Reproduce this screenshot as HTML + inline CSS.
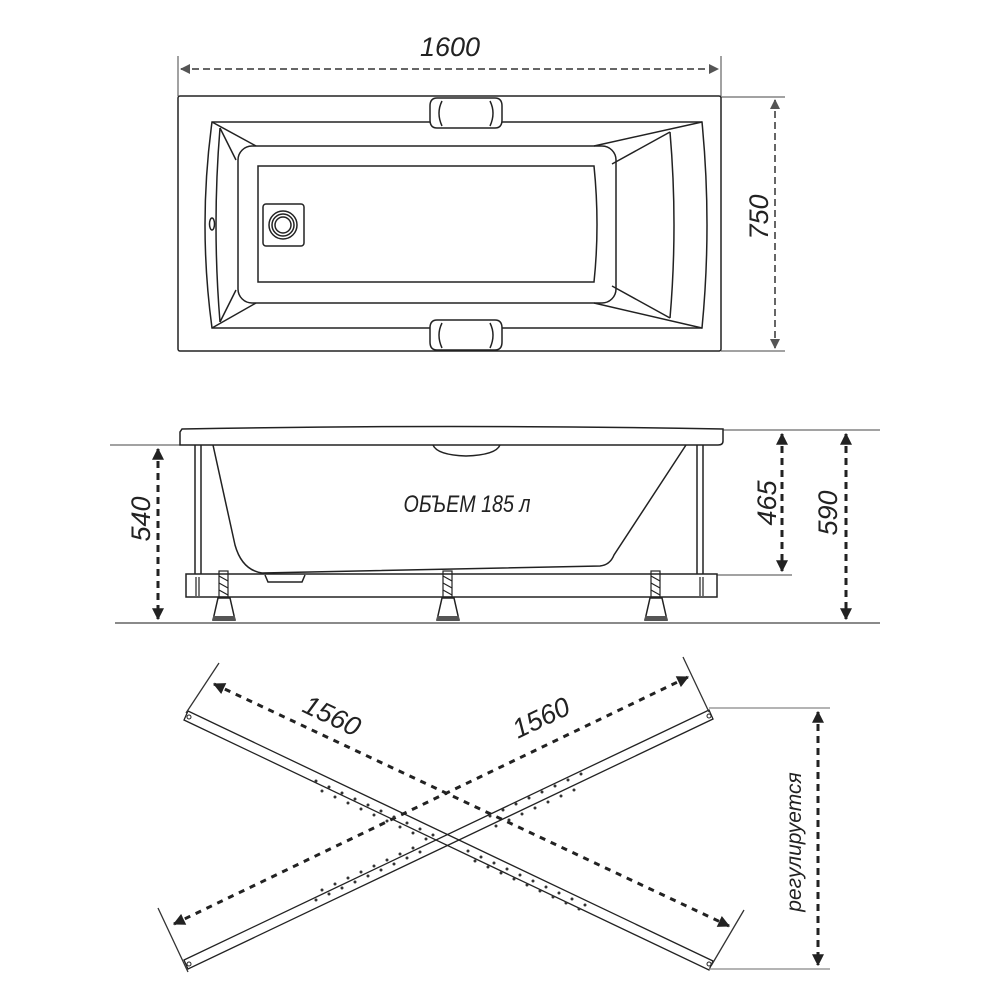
<!DOCTYPE html>
<html><head><meta charset="utf-8"><style>
html,body{margin:0;padding:0;background:#fff;width:1000px;height:1000px;overflow:hidden}
text{font-family:"Liberation Sans",sans-serif;font-style:italic;fill:#222}
</style></head><body>
<svg width="1000" height="1000" viewBox="0 0 1000 1000" xmlns="http://www.w3.org/2000/svg">
<defs>
<marker id="ah" viewBox="0 0 10 10" refX="9" refY="5" markerWidth="4" markerHeight="4" orient="auto-start-reverse" markerUnits="strokeWidth"><path d="M0,0 L10,5 L0,10 z" fill="#222"/></marker>
<marker id="ag" viewBox="0 0 10 10" refX="9" refY="5" markerWidth="5" markerHeight="5" orient="auto-start-reverse" markerUnits="strokeWidth"><path d="M0,0 L10,5 L0,10 z" fill="#555"/></marker>
</defs>
<g fill="none" stroke="#222" stroke-width="1.5">
<!-- TOP VIEW -->
<line x1="178" y1="56" x2="178" y2="96" stroke="#444" stroke-width="1"/>
<line x1="721" y1="56" x2="721" y2="96" stroke="#444" stroke-width="1"/>
<line x1="181" y1="69" x2="718" y2="69" stroke="#666" stroke-width="2" stroke-dasharray="7,4" marker-start="url(#ag)" marker-end="url(#ag)"/>
<line x1="721" y1="97" x2="785" y2="97" stroke="#444" stroke-width="1"/>
<line x1="721" y1="351" x2="785" y2="351" stroke="#444" stroke-width="1"/>
<line x1="775" y1="100" x2="775" y2="348" stroke="#666" stroke-width="2" stroke-dasharray="7,4" marker-start="url(#ag)" marker-end="url(#ag)"/>
<rect x="178" y="96" width="543" height="255" rx="2"/>
<path d="M212,122 L702,122 Q712,225 702,328 L212,328 Q198,225 212,122 Z"/>
<path d="M220,128 Q212,225 220,322"/>
<path d="M670,132 Q678,225 670,318"/>
<rect x="238" y="146" width="378" height="157" rx="14"/>
<path d="M258,166 L594,166 Q600,225 594,282 L258,282 Z"/>
<path d="M212,122 L256,146 M220,128 L236,160 M212,328 L256,303 M220,322 L236,290"/>
<path d="M702,122 L594,146 M670,132 L612,164 M702,328 L594,303 M670,318 L612,286"/>
<rect x="263" y="204" width="41" height="42" rx="3"/>
<circle cx="283" cy="225" r="14"/><circle cx="283" cy="225" r="11"/><circle cx="283" cy="225" r="8"/>
<ellipse cx="212" cy="224" rx="2.5" ry="6"/>
<path d="M437,98 L495,98 Q502,98 502,106 L502,120 Q502,128 495,128 L437,128 Q430,128 430,120 L430,106 Q430,98 437,98 Z" fill="#fff"/>
<path d="M442,101 Q436,113 442,126 M490,101 Q496,113 490,126"/>
<path d="M437,320 L495,320 Q502,320 502,328 L502,342 Q502,350 495,350 L437,350 Q430,350 430,342 L430,328 Q430,320 437,320 Z" fill="#fff"/>
<path d="M442,323 Q436,335 442,348 M490,323 Q496,335 490,348"/>

<!-- SIDE VIEW -->
<line x1="110" y1="445" x2="180" y2="445" stroke="#444" stroke-width="1"/>
<line x1="723" y1="430" x2="880" y2="430" stroke="#444" stroke-width="1"/>
<line x1="717" y1="575" x2="792" y2="575" stroke="#444" stroke-width="1"/>
<line x1="115" y1="623" x2="880" y2="623" stroke="#444" stroke-width="1.2"/>
<line x1="158" y1="449" x2="158" y2="619" stroke-width="3" stroke-dasharray="7,5" marker-start="url(#ah)" marker-end="url(#ah)"/>
<line x1="782" y1="434" x2="782" y2="571" stroke-width="3" stroke-dasharray="7,5" marker-start="url(#ah)" marker-end="url(#ah)"/>
<line x1="846" y1="434" x2="846" y2="619" stroke-width="3" stroke-dasharray="7,5" marker-start="url(#ah)" marker-end="url(#ah)"/>
<path d="M182,429 Q450,424 723,429 L723,441 Q723,445 718,445 L180,445 L180,432 Z"/>
<path d="M213,445 L235,545 Q242,570 262,573 L600,566 Q610,565 614,555 L686,445"/>
<path d="M433,445 Q437,455 466,456 Q496,455 500,445"/>
<path d="M195,445 L195,574 M201,445 L201,574 M697,445 L697,574 M703,445 L703,574"/>
<rect x="186" y="574" width="531" height="23"/>
<path d="M265,575 L268,582 L302,582 L305,575" />
<g stroke-width="1.2">
<path d="M196,577 L196,596 M199,577 L199,596 M700,577 L700,596 M703,577 L703,596"/>
<rect x="219" y="571" width="9" height="26"/><rect x="443" y="571" width="9" height="26"/><rect x="651" y="571" width="9" height="26"/>
<path d="M219,576 L228,581 M219,583 L228,588 M219,590 L228,595 M443,576 L452,581 M443,583 L452,588 M443,590 L452,595 M651,576 L660,581 M651,583 L660,588 M651,590 L660,595"/>
</g>
<path d="M218,598 L230,598 L235,620 L213,620 Z"/>
<path d="M442,598 L454,598 L459,620 L437,620 Z"/>
<path d="M650,598 L662,598 L667,620 L645,620 Z"/>
<rect x="213" y="616" width="22" height="5" fill="#555" stroke="none"/>
<rect x="437" y="616" width="22" height="5" fill="#555" stroke="none"/>
<rect x="645" y="616" width="22" height="5" fill="#555" stroke="none"/>

<!-- CROSS BARS -->
<g stroke-width="1.3">
<path d="M188,711 L713,961 L709,970 L184,720 Z"/>
<path d="M184,960 L709,710 L713,719 L188,969 Z"/>
<line x1="219" y1="663" x2="186" y2="713" stroke="#333"/>
<line x1="744" y1="910" x2="711" y2="966" stroke="#333"/>
<line x1="158" y1="908" x2="188" y2="972" stroke="#333"/>
<line x1="683" y1="657" x2="709" y2="712" stroke="#333"/>
<line x1="709" y1="708" x2="830" y2="708" stroke="#888"/>
<line x1="709" y1="969" x2="830" y2="969" stroke="#888"/>
</g>
<circle cx="189" cy="717" r="2" stroke-width="1"/><circle cx="709" cy="964" r="2" stroke-width="1"/>
<circle cx="189" cy="964" r="2" stroke-width="1"/><circle cx="709" cy="716" r="2" stroke-width="1"/>
<line x1="214" y1="684" x2="729" y2="926" stroke-width="3" stroke-dasharray="6,6" marker-start="url(#ah)" marker-end="url(#ah)"/>
<line x1="174" y1="924" x2="688" y2="677" stroke-width="3" stroke-dasharray="6,6" marker-start="url(#ah)" marker-end="url(#ah)"/>
<line x1="818" y1="712" x2="818" y2="965" stroke-width="3" stroke-dasharray="7,5" marker-start="url(#ah)" marker-end="url(#ah)"/>
<g fill="#333" stroke="none">
<circle cx="316" cy="781" r="1.5"/><circle cx="329" cy="787" r="1.5"/><circle cx="342" cy="793" r="1.5"/><circle cx="355" cy="799" r="1.5"/><circle cx="368" cy="805" r="1.5"/><circle cx="381" cy="811" r="1.5"/><circle cx="394" cy="817" r="1.5"/><circle cx="407" cy="823" r="1.5"/><circle cx="420" cy="829" r="1.5"/><circle cx="433" cy="835" r="1.5"/>
<circle cx="322" cy="791" r="1.5"/><circle cx="335" cy="797" r="1.5"/><circle cx="348" cy="803" r="1.5"/><circle cx="361" cy="809" r="1.5"/><circle cx="374" cy="815" r="1.5"/><circle cx="387" cy="821" r="1.5"/><circle cx="400" cy="827" r="1.5"/><circle cx="413" cy="833" r="1.5"/><circle cx="426" cy="839" r="1.5"/>
<circle cx="468" cy="851" r="1.5"/><circle cx="481" cy="857" r="1.5"/><circle cx="494" cy="863" r="1.5"/><circle cx="507" cy="869" r="1.5"/><circle cx="520" cy="875" r="1.5"/><circle cx="533" cy="881" r="1.5"/><circle cx="546" cy="887" r="1.5"/><circle cx="559" cy="893" r="1.5"/><circle cx="572" cy="899" r="1.5"/><circle cx="585" cy="905" r="1.5"/>
<circle cx="475" cy="861" r="1.5"/><circle cx="488" cy="867" r="1.5"/><circle cx="501" cy="873" r="1.5"/><circle cx="514" cy="879" r="1.5"/><circle cx="527" cy="885" r="1.5"/><circle cx="540" cy="891" r="1.5"/><circle cx="553" cy="897" r="1.5"/><circle cx="566" cy="903" r="1.5"/><circle cx="579" cy="909" r="1.5"/>
<circle cx="316" cy="900" r="1.5"/><circle cx="329" cy="894" r="1.5"/><circle cx="342" cy="888" r="1.5"/><circle cx="355" cy="882" r="1.5"/><circle cx="368" cy="876" r="1.5"/><circle cx="381" cy="870" r="1.5"/><circle cx="394" cy="864" r="1.5"/><circle cx="407" cy="858" r="1.5"/><circle cx="420" cy="852" r="1.5"/>
<circle cx="322" cy="890" r="1.5"/><circle cx="335" cy="884" r="1.5"/><circle cx="348" cy="878" r="1.5"/><circle cx="361" cy="872" r="1.5"/><circle cx="374" cy="866" r="1.5"/><circle cx="387" cy="860" r="1.5"/><circle cx="400" cy="854" r="1.5"/><circle cx="413" cy="848" r="1.5"/>
<circle cx="490" cy="816" r="1.5"/><circle cx="503" cy="810" r="1.5"/><circle cx="516" cy="804" r="1.5"/><circle cx="529" cy="798" r="1.5"/><circle cx="542" cy="792" r="1.5"/><circle cx="555" cy="786" r="1.5"/><circle cx="568" cy="780" r="1.5"/><circle cx="581" cy="774" r="1.5"/>
<circle cx="496" cy="826" r="1.5"/><circle cx="509" cy="820" r="1.5"/><circle cx="522" cy="814" r="1.5"/><circle cx="535" cy="808" r="1.5"/><circle cx="548" cy="802" r="1.5"/><circle cx="561" cy="796" r="1.5"/><circle cx="574" cy="790" r="1.5"/>
</g>
</g>
<text x="450" y="56" font-size="27" text-anchor="middle">1600</text>
<text transform="translate(768,217) rotate(-90)" font-size="27" text-anchor="middle">750</text>
<text transform="translate(150,519) rotate(-90)" font-size="27" text-anchor="middle">540</text>
<text transform="translate(776,503) rotate(-90)" font-size="27" text-anchor="middle">465</text>
<text transform="translate(837,513) rotate(-90)" font-size="27" text-anchor="middle">590</text>
<text font-size="24" text-anchor="middle" transform="translate(467,512) scale(0.82,1)">ОБЪЕМ 185 л</text>
<text transform="translate(328,724) rotate(25.5)" font-size="27" text-anchor="middle">1560</text>
<text transform="translate(545,726) rotate(-25.5)" font-size="27" text-anchor="middle">1560</text>
<text transform="translate(801,842) rotate(-90)" font-size="21" text-anchor="middle">регулируется</text>
</svg>
</body></html>
